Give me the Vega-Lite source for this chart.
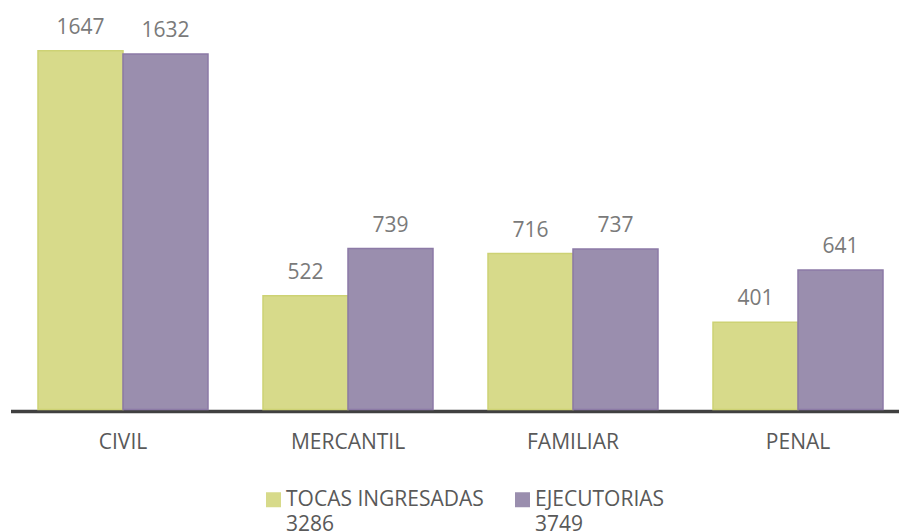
{
  "$schema": "https://vega.github.io/schema/vega-lite/v6.json",
  "width": 889,
  "height": 392,
  "autosize": {"type": "none"},
  "padding": {"left": 10, "top": 17.5, "right": 0, "bottom": 121.5},
  "background": "white",
  "config": {
    "view": {"stroke": null},
    "font": "Open Sans",
    "style": {"guide-label": {"lineHeight": 25}}
  },
  "data": {
    "values": [
      {"materia": "CIVIL", "serie": "TOCAS INGRESADAS", "valor": 1647},
      {"materia": "CIVIL", "serie": "EJECUTORIAS", "valor": 1632},
      {"materia": "MERCANTIL", "serie": "TOCAS INGRESADAS", "valor": 522},
      {"materia": "MERCANTIL", "serie": "EJECUTORIAS", "valor": 739},
      {"materia": "FAMILIAR", "serie": "TOCAS INGRESADAS", "valor": 716},
      {"materia": "FAMILIAR", "serie": "EJECUTORIAS", "valor": 737},
      {"materia": "PENAL", "serie": "TOCAS INGRESADAS", "valor": 401},
      {"materia": "PENAL", "serie": "EJECUTORIAS", "valor": 641}
    ]
  },
  "encoding": {
    "x": {
      "field": "materia",
      "type": "nominal",
      "sort": ["CIVIL", "MERCANTIL", "FAMILIAR", "PENAL"],
      "scale": {"range": [0.5, 900.5], "paddingInner": 0, "paddingOuter": 0},
      "axis": {
        "title": null,
        "labelAngle": 0,
        "ticks": false,
        "domainColor": "#404040",
        "domainWidth": 3.5,
        "offset": 1.5,
        "labelPadding": 20.5,
        "labelFontSize": 21,
        "labelColor": "#595959",
        "labelFont": "Open Sans"
      }
    },
    "xOffset": {
      "field": "serie",
      "sort": ["TOCAS INGRESADAS", "EJECUTORIAS"],
      "scale": {"paddingInner": 0, "paddingOuter": 0.3235}
    },
    "y": {
      "field": "valor",
      "type": "quantitative",
      "scale": {"domain": [0, 1800]},
      "axis": null
    }
  },
  "layer": [
    {
      "mark": {"type": "bar", "strokeWidth": 1.5},
      "encoding": {
        "fill": {
          "field": "serie",
          "type": "nominal",
          "sort": ["TOCAS INGRESADAS", "EJECUTORIAS"],
          "scale": {"domain": ["TOCAS INGRESADAS", "EJECUTORIAS"], "range": ["#D7DA8A", "#9A8EAE"]},
          "legend": {
            "title": null,
            "orient": "none",
            "direction": "horizontal",
            "legendX": 253,
            "legendY": 471.5,
            "symbolType": "square",
            "symbolSize": 225,
            "symbolStrokeWidth": 0,
            "labelFontSize": 21,
            "labelColor": "#595959",
            "labelFont": "Open Sans",
            "labelOffset": 2,
            "columnPadding": 28,
            "labelLimit": 400,
            "labelBaseline": "middle",
            "labelExpr": "datum.label == 'TOCAS INGRESADAS' ? ['TOCAS INGRESADAS', '3286'] : ['EJECUTORIAS', '3749']"
          }
        },
        "stroke": {
          "field": "serie",
          "type": "nominal",
          "scale": {"domain": ["TOCAS INGRESADAS", "EJECUTORIAS"], "range": ["#CDD274", "#8C7AA6"]},
          "legend": null
        }
      }
    },
    {
      "mark": {"type": "text", "dy": -17, "baseline": "alphabetic", "fontSize": 21, "color": "#7a7a7a", "font": "Open Sans"},
      "encoding": {"text": {"field": "valor", "type": "quantitative"}}
    }
  ]
}
